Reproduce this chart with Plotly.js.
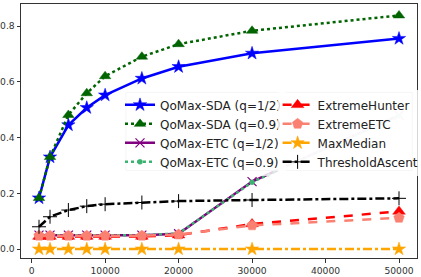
<!DOCTYPE html>
<html>
<head>
<meta charset="utf-8">
<script src="https://cdn.plot.ly/plotly-3.0.1.min.js"></script>
<style>html,body{margin:0;padding:0;background:#fff;}#chart{width:421px;height:277px;}</style>
</head>
<body>
<div id="chart"></div>
<script>
const budgets = [1000, 2500, 5000, 7500, 10000, 15000, 20000, 30000, 50000];
const qomaxSdaHalf = [0.183, 0.33, 0.445, 0.507, 0.552, 0.612, 0.654, 0.702, 0.755];
const qomaxSda09 = [0.183, 0.33, 0.481, 0.559, 0.62, 0.69, 0.735, 0.783, 0.838];
const qomaxEtcHalf = [0.05, 0.05, 0.05, 0.05, 0.05, 0.05, 0.055, 0.242, 0.48];
const qomaxEtc09 = [0.05, 0.05, 0.05, 0.05, 0.05, 0.05, 0.056, 0.24, 0.478];
const extremeHunter = [0.045, 0.045, 0.045, 0.045, 0.045, 0.045, 0.05, 0.09, 0.135];
const extremeEtc = [0.048, 0.048, 0.048, 0.048, 0.048, 0.048, 0.052, 0.085, 0.112];
const maxMedian = [0, 0, 0, 0, 0, 0, 0, 0, 0];
const thresholdAscent = [0.08, 0.116, 0.14, 0.154, 0.161, 0.167, 0.172, 0.176, 0.182];
const xTicks = [0, 10000, 20000, 30000, 40000, 50000];
const yTicks = [0.0, 0.2, 0.4, 0.6, 0.8];

function tr(name, y, color, dash, symbol, msize, lw, leg, rank) {
  return {
    type: 'scatter', mode: 'lines+markers', name: name, x: budgets, y: y,
    line: {color: color, width: 2.5, dash: dash},
    marker: {color: color, symbol: symbol, size: msize, line: {color: color, width: lw}},
    legend: leg, legendrank: rank
  };
}

const data = [
  tr('QoMax-SDA (q=1/2)', qomaxSdaHalf, '#0000ff', 'solid', 'star', 10, 0.5, 'legend', 1),
  tr('QoMax-SDA (q=0.9)', qomaxSda09, '#006400', 'dot', 'triangle-up', 10, 0.5, 'legend', 2),
  tr('QoMax-ETC (q=1/2)', qomaxEtcHalf, '#800080', 'solid', 'x-thin', 9, 1.2, 'legend', 3),
  tr('QoMax-ETC (q=0.9)', qomaxEtc09, '#3cb371', 'dot', 'circle', 5, 0.5, 'legend', 4),
  tr('ExtremeHunter', extremeHunter, '#ff0000', 'dash', 'triangle-up', 11, 0.5, 'legend2', 1),
  tr('ExtremeETC', extremeEtc, '#fa8072', 'dash', 'pentagon', 11, 0.5, 'legend2', 2),
  tr('MaxMedian', maxMedian, '#ffa500', 'dashdot', 'star', 10, 0.5, 'legend2', 3),
  tr('ThresholdAscent', thresholdAscent, '#000000', 'dashdot', 'cross-thin', 10, 1, 'legend2', 4)
];

const legFont = {family: 'DejaVu Sans', size: 12, color: '#222'};

const layout = {
  width: 421, height: 277,
  margin: {l: 21, r: 4.3, t: 4, b: 19, pad: 0, autoexpand: false},
  paper_bgcolor: '#fff', plot_bgcolor: '#fff',
  font: {family: 'DejaVu Sans', size: 9, color: '#222'},
  showlegend: true,
  xaxis: {
    range: [-1450, 52450], tickvals: xTicks, tickformat: 'd', automargin: false,
    showgrid: false, zeroline: false, showline: true, mirror: true,
    linecolor: '#333', linewidth: 1, ticks: 'outside', ticklen: 3.5, tickcolor: '#333',
    tickfont: {size: 9.2, color: '#333'}
  },
  yaxis: {
    range: [-0.032, 0.879], tickvals: yTicks, tickformat: '.1f', automargin: false,
    showgrid: false, zeroline: false, showline: true, mirror: true,
    linecolor: '#333', linewidth: 1, ticks: 'outside', ticklen: 3.5, tickcolor: '#333',
    tickfont: {size: 9.2, color: '#333'}
  },
  shapes: [{
    type: 'rect', xref: 'paper', yref: 'paper', layer: 'above',
    x0: 0.265, x1: 0.988, y0: 0.345, y1: 0.652,
    fillcolor: 'rgba(255,255,255,0.8)', line: {color: '#cccccc', width: 1}
  }],
  legend: {
    orientation: 'v', x: 0.25, xanchor: 'left', y: 0.66, yanchor: 'top',
    bgcolor: 'rgba(255,255,255,0.8)', borderwidth: 0, font: legFont, tracegroupgap: 0
  },
  legend2: {
    orientation: 'v', x: 0.648, xanchor: 'left', y: 0.66, yanchor: 'top',
    bgcolor: 'rgba(255,255,255,0.8)', borderwidth: 0, font: legFont, tracegroupgap: 0
  }
};

Plotly.newPlot('chart', data, layout, {displayModeBar: false, staticPlot: true});
</script>
</body>
</html>
